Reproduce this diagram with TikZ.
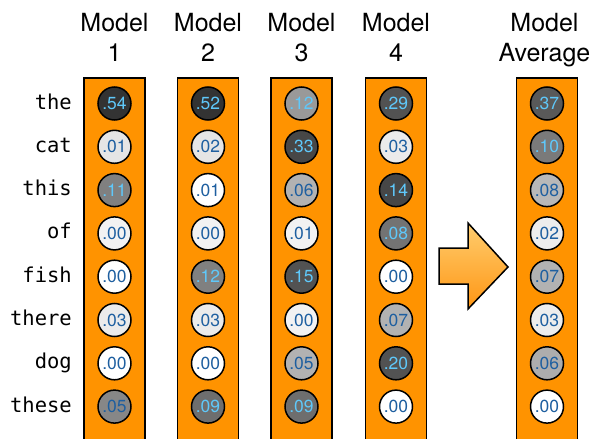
\documentclass[tikz,border=0pt]{standalone}
\usepackage{fontspec}
\setmainfont{TeX Gyre Heros}
\setmonofont{DejaVu Sans Mono}
\usetikzlibrary{positioning}
\definecolor{barOrange}{RGB}{255,147,0}
\definecolor{numL}{RGB}{95,200,250}
\definecolor{numD}{RGB}{30,95,160}
\definecolor{arrowTop}{RGB}{255,205,110}
\definecolor{arrowBottom}{RGB}{255,150,20}
\newcommand{\rowy}[1]{103.5+43.3*(#1-1)}

\begin{document}
\begin{tikzpicture}[
    x=1pt, y=-1pt,
    column/.style={draw, line width=1.5pt, fill=barOrange, minimum width=61pt, minimum height=364pt, anchor=north, inner sep=0pt},
    prob/.style={circle, draw, line width=1.5pt, minimum size=33pt, inner sep=0pt, font=\fontsize{17.5}{20}\selectfont},
    word/.style={anchor=base east, inner sep=0pt, font=\ttfamily\fontsize{20.5}{24}\selectfont},
    header/.style={align=center, inner sep=0pt, text depth=0pt, font=\fontsize{25}{30}\selectfont}
  ]
  \useasboundingbox (0,0) rectangle (592,439);

  % vocabulary
  \foreach \w [count=\i] in {the,cat,this,of,fish,there,dog,these}
    \node[word] (w\i) at (72,{\rowy{\i}+5.5}) {\w};

  % models and their average
  \foreach \x/\name/\lst [count=\c] in {
      114.5/1/{.54/80/L,.01/10/D,.11/50/L,.00/5/D,.00/0/D,.03/8/D,.00/0/D,.05/47/D},
      208/2/{.52/80/L,.02/10/D,.01/0/D,.00/5/D,.12/50/L,.03/8/D,.00/0/D,.09/57/L},
      301.5/3/{.12/40/L,.33/72/L,.06/30/D,.01/5/D,.15/68/L,.00/5/D,.05/30/D,.09/57/L},
      396/4/{.29/68/L,.03/8/D,.14/72/L,.08/55/L,.00/0/D,.07/30/D,.20/68/L,.00/0/D},
      547/Average/{.37/65/L,.10/52/L,.08/28/D,.02/7/D,.07/30/D,.03/7/D,.06/32/D,.00/0/D}} {
    \node[column] (col\c) at (\x,77) {};
    \node[header, above=15pt of col\c, xshift={\c==5 ? -2.5 : 0}] (head\c) {Model\\\name};
    \foreach \v/\g/\tc [count=\i] in \lst
      \node[prob, fill=black!\g, text=num\tc] (p\c-\i) at (\x,{\rowy{\i}}) {\v};
  }

  % averaging arrow
  \draw[line width=1.5pt, line join=miter, top color=arrowTop, bottom color=arrowBottom]
    (439,248) -- (468,248) -- (468,223) -- (508,267) -- (468,309) -- (468,284) -- (439,284) -- cycle;
\end{tikzpicture}
\end{document}
